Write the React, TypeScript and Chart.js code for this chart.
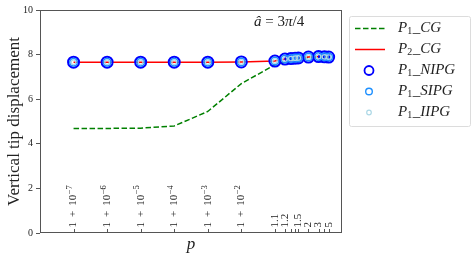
import React, { useEffect, useRef } from 'react';
import { Chart, registerables } from 'chart.js';

Chart.register(...registerables);

// p - 1 values (x positions on a log axis)
const pMinusOne = [1e-7, 1e-6, 1e-5, 1e-4, 1e-3, 1e-2, 0.1, 0.2, 0.3, 0.4, 0.5, 1, 2, 3, 4];
const p1CG = [4.69, 4.69, 4.7, 4.8, 5.45, 6.7, 7.54, 7.66, 7.73, 7.77, 7.8, 7.87, 7.89, 7.88, 7.87];
const p2CG = [7.66, 7.66, 7.66, 7.66, 7.66, 7.67, 7.71, 7.8, 7.82, 7.84, 7.85, 7.89, 7.91, 7.9, 7.89];
const p1NIPG = [7.66, 7.66, 7.66, 7.66, 7.66, 7.67, 7.71, 7.8, 7.82, 7.84, 7.85, 7.89, 7.91, 7.9, 7.89];
const p1SIPG = [7.66, 7.66, 7.66, 7.66, 7.66, 7.67, 7.71, 7.8, 7.82, 7.84, 7.85, 7.89, 7.91, 7.9, 7.89];
const p1IIPG = [7.66, 7.66, 7.66, 7.66, 7.66, 7.67, 7.71, 7.8, 7.82, 7.84, 7.85, 7.89, 7.91, 7.9, 7.89];

const xTickValues = [1e-7, 1e-6, 1e-5, 1e-4, 1e-3, 1e-2, 0.1, 0.2, 0.3, 0.4, 0.5, 1, 2, 3, 4];
const xTickBase = ['1 + 10', '1 + 10', '1 + 10', '1 + 10', '1 + 10', '1 + 10', '1.1', '1.2', '', '', '1.5', '2', '3', '', '5'];
const xTickExp = ['\u22127', '\u22126', '\u22125', '\u22124', '\u22123', '\u22122', '', '', '', '', '', '', '', '', ''];
const yTicks = [0, 2, 4, 6, 8, 10];

const SERIF = '"Liberation Serif", "DejaVu Serif", serif';
const AXIS = '#555';
const TEXT = '#222';

const toPts = (ys: number[]) => pMinusOne.map((x, i) => ({ x, y: ys[i] }));

const legendItems = [
  { sub: '1', name: 'CG', kind: 'dash', color: '#008000' },
  { sub: '2', name: 'CG', kind: 'line', color: '#ff0000' },
  { sub: '1', name: 'NIPG', kind: 'circle', color: '#0000ff', r: 4.5, w: 1.8 },
  { sub: '1', name: 'SIPG', kind: 'circle', color: '#1e90ff', r: 3.3, w: 1.4 },
  { sub: '1', name: 'IIPG', kind: 'circle', color: '#add8e6', r: 2.3, w: 1.2 },
];

const customPlugin = {
  id: 'custom',
  afterDraw(chart: any) {
    const ctx = chart.ctx as CanvasRenderingContext2D;
    const { left, right, top, bottom } = chart.chartArea;
    const xs = chart.scales.x;
    ctx.save();
    // frame
    ctx.strokeStyle = AXIS;
    ctx.lineWidth = 1;
    const L = Math.round(left) + 0.5, R = Math.round(right) - 0.5;
    const T = Math.round(top) + 0.5, B = Math.round(bottom) - 0.5;
    ctx.strokeRect(L, T, R - L, B - T);
    // x ticks (inward) and labels inside plot
    xTickValues.forEach((v, i) => {
      const px = xs.getPixelForValue(v);
      ctx.beginPath();
      ctx.moveTo(Math.round(px) + 0.5, B);
      ctx.lineTo(Math.round(px) + 0.5, B - 3.5);
      ctx.stroke();
      const base = xTickBase[i];
      if (!base) return;
      ctx.save();
      ctx.translate(px, B - 5);
      ctx.rotate(-Math.PI / 2);
      ctx.fillStyle = TEXT;
      ctx.textAlign = 'left';
      ctx.textBaseline = 'middle';
      ctx.font = `11px ${SERIF}`;
      if (xTickExp[i]) {
        // "1 + 10" with wider math spacing
        let xpos = 0;
        const parts = ['1', '+', '10'];
        const gaps = [5, 5, 0];
        parts.forEach((pt, k) => {
          ctx.fillText(pt, xpos, 0);
          xpos += ctx.measureText(pt).width + gaps[k];
        });
        ctx.font = `8.5px ${SERIF}`;
        ctx.fillText(xTickExp[i], xpos + 0.5, -3.5);
      } else {
        ctx.fillText(base, 0, 0);
      }
      ctx.restore();
    });

    // annotation
    ctx.fillStyle = TEXT;
    ctx.textBaseline = 'middle';
    ctx.textAlign = 'left';
    let ax = 254;
    const ay = 22;
    const segs: [string, boolean][] = [['\u00e2', true], [' = 3', false], ['\u03c0', true], ['/4', false]];
    segs.forEach(([s, it]) => {
      ctx.font = `${it ? 'italic ' : ''}15px ${SERIF}`;
      ctx.fillText(s, ax, ay);
      ax += ctx.measureText(s).width;
    });

    // legend
    const bx = 349.5, by = 16.5, bw = 121, bh = 110;
    ctx.fillStyle = 'rgba(255,255,255,0.8)';
    ctx.strokeStyle = '#dcdcdc';
    ctx.lineWidth = 1;
    ctx.beginPath();
    (ctx as any).roundRect(bx, by, bw, bh, 2);
    ctx.fill();
    ctx.stroke();
    legendItems.forEach((it, i) => {
      const y = 28.5 + i * 21;
      ctx.save();
      if (it.kind === 'dash' || it.kind === 'line') {
        ctx.strokeStyle = it.color;
        ctx.lineWidth = 1.5;
        ctx.setLineDash(it.kind === 'dash' ? [5.5, 2.5] : []);
        ctx.beginPath();
        ctx.moveTo(355, y);
        ctx.lineTo(385, y);
        ctx.stroke();
      } else {
        ctx.strokeStyle = it.color;
        ctx.lineWidth = it.w as number;
        ctx.beginPath();
        ctx.arc(369, y, it.r as number, 0, Math.PI * 2);
        ctx.stroke();
      }
      ctx.restore();
      ctx.fillStyle = TEXT;
      ctx.textBaseline = 'middle';
      let tx = 398;
      ctx.font = `italic 15px ${SERIF}`;
      ctx.fillText('P', tx, y);
      tx += ctx.measureText('P').width;
      ctx.font = `10px ${SERIF}`;
      ctx.fillText(it.sub, tx, y + 3);
      tx += ctx.measureText(it.sub).width;
      ctx.font = `italic 15px ${SERIF}`;
      ctx.fillText('_' + it.name, tx + 0.5, y);
    });
    ctx.restore();
  },
};

export default function App() {
  const ref = useRef<HTMLCanvasElement | null>(null);
  useEffect(() => {
    if (!ref.current) return;
    const chart = new Chart(ref.current, {
      type: 'line',
      data: {
        datasets: [
          {
            label: 'P1_CG', data: toPts(p1CG), borderColor: '#008000', borderWidth: 1.5,
            borderDash: [5.5, 2.5], pointRadius: 0, tension: 0, order: 5,
          },
          {
            label: 'P2_CG', data: toPts(p2CG), borderColor: '#ff0000', borderWidth: 1.5,
            pointRadius: 0, tension: 0, order: 4,
          },
          {
            label: 'P1_NIPG', data: toPts(p1NIPG), showLine: false, pointRadius: 5.5,
            pointBorderWidth: 2, pointBorderColor: '#0000ff', pointBackgroundColor: 'rgba(0,0,0,0)', order: 3,
          },
          {
            label: 'P1_SIPG', data: toPts(p1SIPG), showLine: false, pointRadius: 3.8,
            pointBorderWidth: 1.5, pointBorderColor: '#1e90ff', pointBackgroundColor: 'rgba(0,0,0,0)', order: 2,
          },
          {
            label: 'P1_IIPG', data: toPts(p1IIPG), showLine: false, pointRadius: 2.3,
            pointBorderWidth: 1.2, pointBorderColor: '#add8e6', pointBackgroundColor: 'rgba(0,0,0,0)', order: 1,
          },
        ] as any,
      },
      options: {
        animation: false,
        responsive: false,
        devicePixelRatio: 1,
        events: [],
        layout: { padding: { top: 10, right: 132, left: 0, bottom: 0 } },
        plugins: { legend: { display: false }, tooltip: { enabled: false } },
        scales: {
          x: {
            type: 'logarithmic',
            min: 1e-8,
            max: 10,
            ticks: { display: false },
            grid: { display: false },
            border: { display: false },
            title: {
              display: true, text: 'p', color: TEXT,
              font: { family: SERIF, size: 17, style: 'italic' },
              padding: { top: 0, bottom: 3 },
            },
            afterFit: (s: any) => { s.height = 25; },
          },
          y: {
            type: 'linear',
            min: 0,
            max: 10,
            afterBuildTicks: (s: any) => { s.ticks = yTicks.map((v) => ({ value: v })); },
            ticks: { color: TEXT, font: { family: SERIF, size: 10 }, padding: 3 },
            grid: { drawOnChartArea: false, drawTicks: true, tickLength: 4, color: AXIS },
            border: { display: false },
            title: {
              display: true, text: 'Vertical tip displacement', color: TEXT,
              font: { family: SERIF, size: 17 },
              padding: { top: 4, bottom: 0 },
            },
            afterFit: (s: any) => { s.width = 40; },
          },
        },
      } as any,
      plugins: [customPlugin],
    });
    return () => chart.destroy();
  }, []);
  return (
    <div style={{ position: 'absolute', left: 0, top: 0, width: 474, height: 258, background: '#fff' }}>
      <canvas ref={ref} width={474} height={258} style={{ display: 'block' }} />
    </div>
  );
}
